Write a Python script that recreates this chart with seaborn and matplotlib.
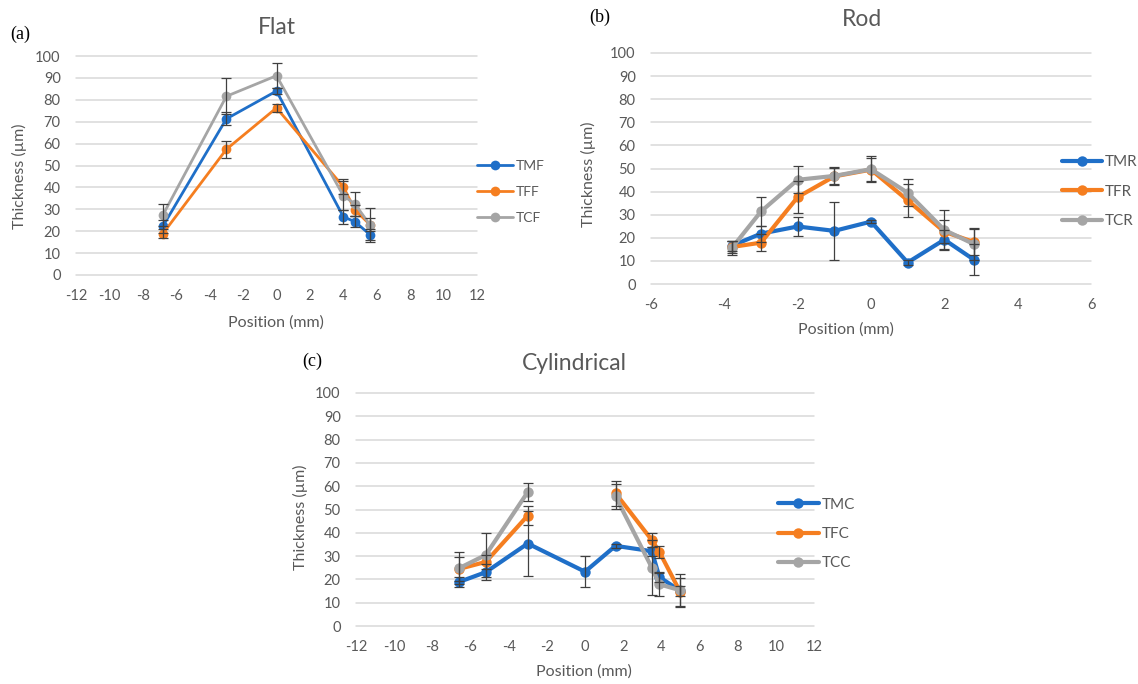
import numpy as np
import pandas as pd
import matplotlib
matplotlib.use("Agg")
import matplotlib.pyplot as plt
import seaborn as sns
from matplotlib.lines import Line2D

# ---------------- data ----------------
flat_x = [-6.8, -3, 0, 4, 4.7, 5.6]
TMF = [22.3, 71.3, 84.0, 26.6, 24.3, 18.4]
TMF_err = [3.0, 3.0, 1.5, 3.3, 2.5, 2.5]
TFF = [18.9, 57.4, 76.3, 40.3, 29.6, 23.0]
TFF_err = [2.0, 3.8, 2.0, 3.5, 2.5, 3.0]
TCF = [27.4, 81.6, 91.0, 36.2, 32.4, 22.8]
TCF_err = [5.0, 8.2, 5.7, 6.5, 5.3, 7.6]

rod_x = [-3.8, -3, -2, -1, 0, 1, 2, 2.8]
TMR = [16.5, 21.8, 24.9, 23.0, 27.0, 9.3, 19.2, 10.6]
TMR_err = [2.0, 3.5, 4.0, 12.6, 0.8, 1.0, 4.0, 6.5]
TFR = [16.0, 17.9, 37.6, 46.6, 49.5, 36.2, 22.6, 18.2]
TFR_err = [2.5, 3.8, 7.0, 3.5, 5.0, 7.0, 5.0, 5.5]
TCR = [15.5, 31.4, 45.1, 46.8, 49.7, 39.5, 23.4, 17.3]
TCR_err = [3.0, 6.2, 5.8, 3.8, 5.5, 5.8, 8.6, 7.0]

cyl_x = [-6.6, -5.2, -3, 0, 1.6, 3.5, 3.9, 5.0]
TMC = [18.9, 23.1, 35.4, 23.3, 34.4, 32.1, 21.0, 15.0]
TMC_err = [2.0, 3.3, 14.0, 6.7, 1.0, 2.0, 2.0, 2.0]
TFC = [24.5, 27.5, 47.4, np.nan, 57.0, 36.9, 31.8, 14.4]
TFC_err = [5.0, 3.0, 4.0, np.nan, 5.3, 3.0, 2.5, 6.0]
TCC = [24.8, 30.5, 57.5, np.nan, 55.6, 25.1, 17.9, 15.3]
TCC_err = [6.8, 9.3, 4.0, np.nan, 5.5, 11.9, 5.0, 7.0]

y_ticks = list(range(0, 101, 10))
flat_xticks = list(range(-12, 13, 2))
rod_xticks = list(range(-6, 7, 2))
cyl_xticks = list(range(-12, 13, 2))

# ---------------- style ----------------
sns.set_theme(style="white")
plt.rcParams['font.family'] = ['Lato', 'DejaVu Sans']
plt.rcParams['axes.unicode_minus'] = False

COLORS = ['#1F6FC8', '#F57E20', '#A5A5A5']
TXT = '#595959'
GRID = '#D9D9D9'
ERR = '#404040'

W, H = 1138, 684
fig = plt.figure(figsize=(W / 100, H / 100), dpi=100)


def axes_px(l, r, t, b):
    return fig.add_axes([l / W, 1 - b / H, (r - l) / W, (b - t) / H])


def panel(ax, x, ys, errs, names, xlim, xticks, lw, ms, leg_x, leg_y, leg_len, leg_fs):
    for y, c, n in zip(ys, COLORS, names):
        df = pd.DataFrame({'x': x, 'y': y})
        df['seg'] = df['y'].isna().cumsum()
        df = df.dropna()
        sns.lineplot(data=df, x='x', y='y', units='seg', estimator=None, sort=False,
                     color=c, lw=lw, marker='o', markersize=ms, markeredgewidth=0,
                     ax=ax, zorder=3, legend=False)
    for y, e in zip(ys, errs):
        ax.errorbar(x, y, yerr=e, fmt='none', ecolor=ERR, elinewidth=0.9,
                    capsize=3.4, capthick=0.9, zorder=5)
    ax.set_xlim(*xlim)
    ax.set_ylim(0, 100)
    ax.set_xticks(xticks)
    ax.set_yticks(y_ticks)
    ax.set_xlabel('')
    ax.set_ylabel('')
    for s in ax.spines.values():
        s.set_visible(False)
    ax.grid(axis='y', color=GRID, lw=1.1)
    ax.grid(axis='x', visible=False)
    for gl in ax.get_ygridlines():
        gl.set_clip_on(False)
    ax.tick_params(length=0, labelsize=10.5, labelcolor=TXT)
    ax.tick_params(axis='x', pad=10)
    ax.tick_params(axis='y', pad=11)
    handles = [Line2D([0], [0], color=c, lw=lw, marker='o', markersize=ms,
                      markeredgewidth=0) for c in COLORS]
    leg = ax.legend(handles, names, loc='center left', bbox_to_anchor=(leg_x, leg_y),
                    frameon=False, fontsize=leg_fs, handlelength=leg_len,
                    handletextpad=0.2, labelspacing=1.0, borderpad=0,
                    borderaxespad=0)
    for t in leg.get_texts():
        t.set_color(TXT)


# (a) Flat
ax1 = axes_px(76, 477, 56, 275)
panel(ax1, flat_x, [TMF, TFF, TCF], [TMF_err, TFF_err, TCF_err],
      ['TMF', 'TFF', 'TCF'], (-12, 12), flat_xticks, 2.0, 7.0,
      1.0, 0.38, 2.6, 10)

# (b) Rod
ax2 = axes_px(651, 1091, 53, 284)
panel(ax2, rod_x, [TMR, TFR, TCR], [TMR_err, TFR_err, TCR_err],
      ['TMR', 'TFR', 'TCR'], (-6, 6), rod_xticks, 3.0, 7.5,
      0.934, 0.40, 2.6, 11)

# (c) Cylindrical
ax3 = axes_px(356, 814, 393, 626)
panel(ax3, cyl_x, [TMC, TFC, TCC], [TMC_err, TFC_err, TCC_err],
      ['TMC', 'TFC', 'TCC'], (-12, 12), cyl_xticks, 3.0, 7.5,
      0.921, 0.395, 2.7, 11)


def ftext(x, y, s, **kw):
    fig.text(x / W, 1 - y / H, s, ha='center', va='center', **kw)


# titles
ftext(277, 27, 'Flat', fontsize=16.5, color=TXT)
ftext(862, 19, 'Rod', fontsize=16.5, color=TXT)
ftext(574, 364, 'Cylindrical', fontsize=16.5, color=TXT)

# panel labels
serif = ['Liberation Serif', 'DejaVu Serif']
ftext(20, 34, '(a)', fontsize=13, color='black', family=serif)
ftext(600, 17, '(b)', fontsize=13, color='black', family=serif)
ftext(312, 361, '(c)', fontsize=13, color='black', family=serif)

# axis labels
ftext(19, 176, 'Thickness (µm)', fontsize=11.5, color=TXT, rotation=90)
ftext(588, 174, 'Thickness (µm)', fontsize=11.5, color=TXT, rotation=90)
ftext(300, 517, 'Thickness (µm)', fontsize=11.5, color=TXT, rotation=90)
ftext(276, 323, 'Position (mm)', fontsize=11.5, color=TXT)
ftext(846, 330, 'Position (mm)', fontsize=11.5, color=TXT)
ftext(584, 672, 'Position (mm)', fontsize=11.5, color=TXT)

fig.savefig('out.png', dpi=100)
